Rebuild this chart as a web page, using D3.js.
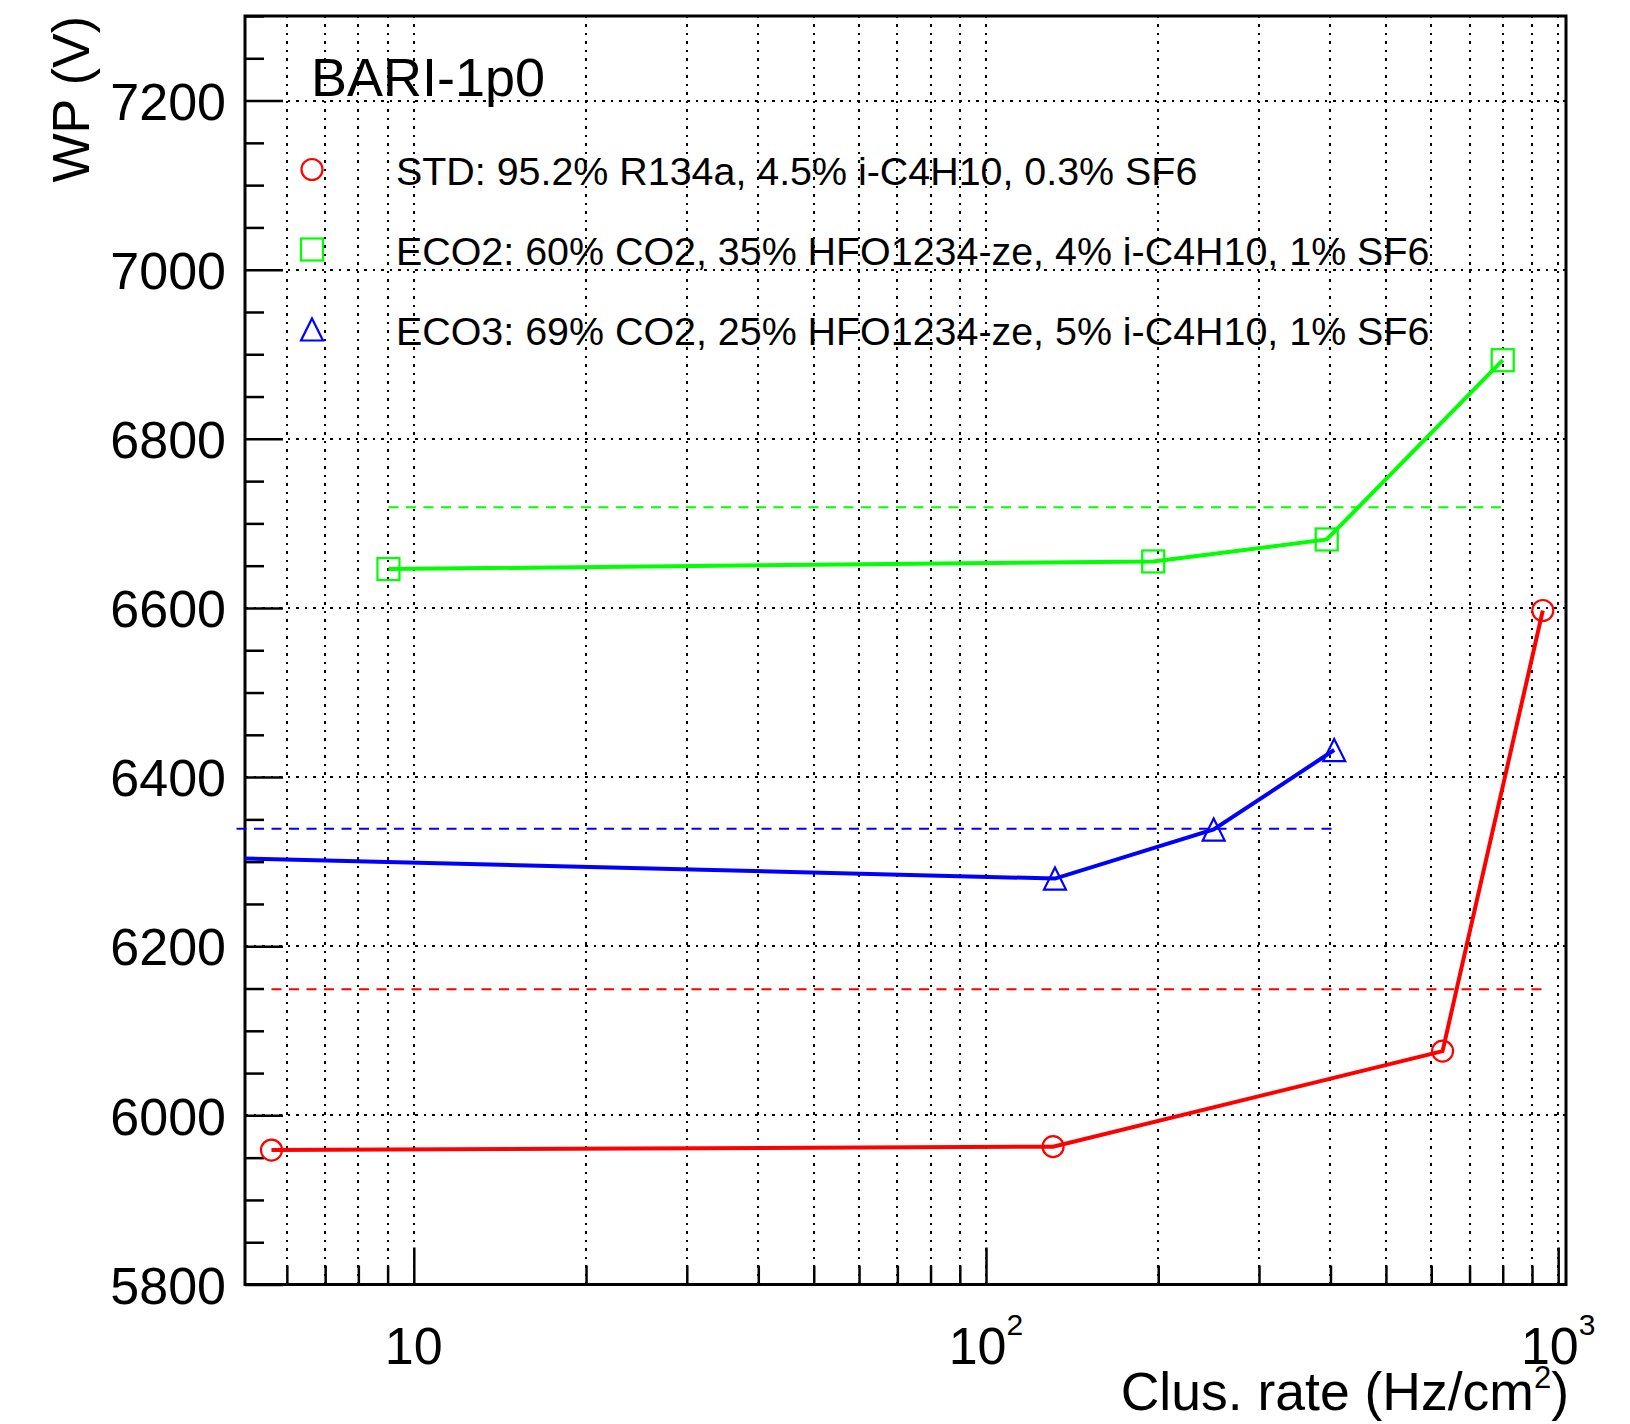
<!DOCTYPE html>
<html>
<head>
<meta charset="utf-8">
<script src="https://cdn.jsdelivr.net/npm/d3@7"></script>
<style>
  body { margin: 0; background: #fff; }
  svg { display: block; font-family: "Liberation Sans", Arial, sans-serif; }
</style>
</head>
<body>
<svg id="chart" width="1630" height="1424"></svg>
<script>
// values
const seriesNames = [
  "STD: 95.2% R134a, 4.5% i-C4H10, 0.3% SF6",
  "ECO2: 60% CO2, 35% HFO1234-ze, 4% i-C4H10, 1% SF6",
  "ECO3: 69% CO2, 25% HFO1234-ze, 5% i-C4H10, 1% SF6"
];
const seriesColors = ["#ff0000", "#00ff00", "#0000ff"];
const seriesMarkers = ["circle", "square", "triangle"];

const stdRate = [5.64, 131, 628, 940];
const stdWP = [5959, 5963, 6076, 6597];
const eco2Rate = [9.03, 196, 394, 800];
const eco2WP = [6646, 6655, 6681, 6893];
const eco3Rate = [4.9, 132, 250, 406];
const eco3WP = [6304, 6280, 6338, 6432];
const meanWP = [6149, 6719, 6339];

const yTickLabels = [5800, 6000, 6200, 6400, 6600, 6800, 7000, 7200];
const xTickLabels = [10, 100, 1000];

const frame = { left: 245, right: 1566, top: 16, bottom: 1284.5 };

const x = d3.scaleLog().domain([5.07, 1032]).range([frame.left, frame.right]);
const y = d3.scaleLinear().domain([5800, 7300]).range([frame.bottom, frame.top]);

const svg = d3.select("#chart");

svg.append("defs").append("clipPath")
  .attr("id", "clip")
  .append("rect")
  .attr("x", frame.left)
  .attr("y", frame.top)
  .attr("width", frame.right - frame.left)
  .attr("height", frame.bottom - frame.top);

// dotted grid
const xGrid = x.ticks().filter(d => d > 5.07 && d <= 1032);
svg.append("g")
  .attr("shape-rendering", "crispEdges")
  .selectAll("line")
  .data(xGrid)
  .enter().append("line")
  .attr("x1", d => Math.round(x(d))).attr("x2", d => Math.round(x(d)))
  .attr("y1", frame.bottom).attr("y2", frame.top)
  .attr("stroke", "#000")
  .attr("stroke-width", 2.5)
  .attr("stroke-dasharray", "2.5,6");

svg.append("g")
  .attr("shape-rendering", "crispEdges")
  .selectAll("line")
  .data(yTickLabels.slice(1))
  .enter().append("line")
  .attr("x1", frame.left).attr("x2", frame.right)
  .attr("y1", d => Math.round(y(d))).attr("y2", d => Math.round(y(d)))
  .attr("stroke", "#000")
  .attr("stroke-width", 2.5)
  .attr("stroke-dasharray", "2.5,6");

// y axis ticks (inside the frame)
const yMinor = y.ticks(30).filter(d => yTickLabels.indexOf(d) < 0);
svg.append("g")
  .attr("transform", `translate(${frame.left},0)`)
  .call(d3.axisLeft(y).tickValues(yMinor).tickSize(-19).tickFormat(""))
  .call(g => g.select(".domain").remove())
  .call(g => g.selectAll("line").attr("stroke-width", 2.5));

svg.append("g")
  .attr("transform", `translate(${frame.left},0)`)
  .call(d3.axisLeft(y).tickValues(yTickLabels).tickSize(-38).tickPadding(19).tickFormat(d3.format("d")))
  .call(g => g.select(".domain").remove())
  .call(g => g.selectAll("line").attr("stroke-width", 2.5))
  .call(g => g.selectAll("text")
    .attr("font-size", 52)
    .attr("font-family", "Liberation Sans, Arial, sans-serif")
    .attr("fill", "#000")
    .attr("dy", "0.36em"));

// x axis ticks
const xMinor = xGrid.filter(d => xTickLabels.indexOf(d) < 0);
svg.append("g")
  .attr("transform", `translate(0,${frame.bottom})`)
  .call(d3.axisBottom(x).tickValues(xMinor).tickSize(-19).tickFormat(""))
  .call(g => g.select(".domain").remove())
  .call(g => g.selectAll("line").attr("stroke-width", 2.5));

svg.append("g")
  .attr("transform", `translate(0,${frame.bottom})`)
  .call(d3.axisBottom(x).tickValues(xTickLabels).tickSize(-37).tickFormat(""))
  .call(g => g.select(".domain").remove())
  .call(g => g.selectAll("line").attr("stroke-width", 2.5));

const xLabels = svg.append("g")
  .selectAll("text")
  .data(xTickLabels)
  .enter().append("text")
  .attr("x", d => x(d))
  .attr("y", 1364)
  .attr("text-anchor", "middle")
  .attr("font-size", 52);
xLabels.append("tspan").text("10");
xLabels.filter(d => d > 10).append("tspan")
  .attr("font-size", 30)
  .attr("dy", -29)
  .text(d => Math.round(Math.log10(d)));

// frame
svg.append("rect")
  .attr("x", frame.left)
  .attr("y", frame.top)
  .attr("width", frame.right - frame.left)
  .attr("height", frame.bottom - frame.top)
  .attr("fill", "none")
  .attr("stroke", "#000")
  .attr("stroke-width", 3);

// axis titles
svg.append("text")
  .attr("transform", "translate(89,16) rotate(-90)")
  .attr("text-anchor", "end")
  .attr("font-size", 52)
  .text("WP (V)");

const xTitle = svg.append("text")
  .attr("x", 1569)
  .attr("y", 1410)
  .attr("text-anchor", "end")
  .attr("font-size", 53.5);
xTitle.append("tspan").text("Clus. rate (Hz/cm");
xTitle.append("tspan").attr("font-size", 31).attr("dy", -22).text("2");
xTitle.append("tspan").attr("dy", 22).text(")");

// series
const series = [
  d3.zip(stdRate, stdWP),
  d3.zip(eco2Rate, eco2WP),
  d3.zip(eco3Rate, eco3WP)
];

const line = d3.line()
  .x(d => x(d[0]))
  .y(d => y(d[1]));

function drawMarker(g, type, color) {
  if (type === "circle") {
    g.append("circle").attr("r", 10.5);
  } else if (type === "square") {
    g.append("rect").attr("x", -11).attr("y", -11).attr("width", 22).attr("height", 22);
  } else {
    g.append("path").attr("d", "M0,-11 L11,11 L-11,11 Z");
  }
  g.selectAll("*")
    .attr("fill", "none")
    .attr("stroke", color)
    .attr("stroke-width", 2.2);
}

series.forEach((pts, i) => {
  const color = seriesColors[i];

  // mean value, dashed
  svg.append("line")
    .attr("x1", x(d3.min(pts, d => d[0])))
    .attr("x2", x(d3.max(pts, d => d[0])))
    .attr("y1", y(meanWP[i]))
    .attr("y2", y(meanWP[i]))
    .attr("stroke", color)
    .attr("stroke-width", 2)
    .attr("stroke-dasharray", "10,7.5");

  svg.append("path")
    .datum(pts)
    .attr("clip-path", "url(#clip)")
    .attr("d", line)
    .attr("fill", "none")
    .attr("stroke", color)
    .attr("stroke-width", 4);

  pts.filter(d => d[0] >= 5.07).forEach(d => {
    const g = svg.append("g")
      .attr("transform", `translate(${x(d[0])},${y(d[1])})`);
    drawMarker(g, seriesMarkers[i], color);
  });
});

// legend
svg.append("text")
  .attr("x", 311)
  .attr("y", 96)
  .attr("font-size", 54)
  .text("BARI-1p0");

const legendRows = [169.5, 249.5, 329.5];
seriesNames.forEach((name, i) => {
  const g = svg.append("g")
    .attr("transform", `translate(312,${legendRows[i]})`);
  drawMarker(g, seriesMarkers[i], seriesColors[i]);
  svg.append("text")
    .attr("x", 396)
    .attr("y", legendRows[i] + 15.5)
    .attr("font-size", 39.4)
    .text(name);
});
</script>
</body>
</html>
